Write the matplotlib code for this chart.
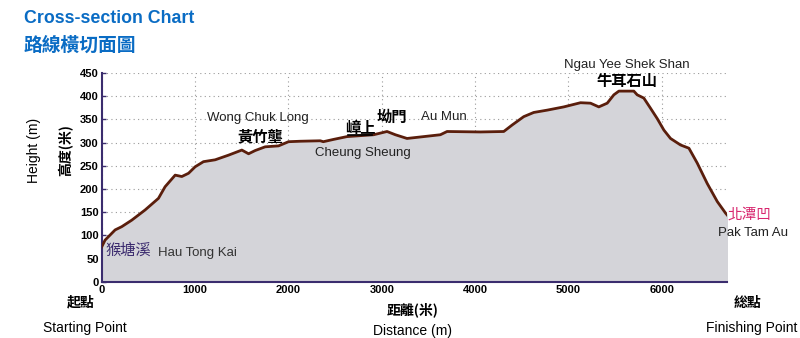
import matplotlib
matplotlib.use("Agg")
import matplotlib.pyplot as plt
from matplotlib.ticker import MultipleLocator

plt.rcParams['font.family'] = ['Liberation Sans', 'Noto Sans CJK TC', 'DejaVu Sans']

# route profile: distance (m), height (m)
distance = [0, 37, 145, 216, 323, 466, 609, 680, 788, 859, 931, 1002, 1091, 1216, 1359,
            1502, 1574, 1645, 1752, 1895, 2002, 2127, 2342, 2374, 2485, 2628, 2913, 3057,
            3146, 3271, 3628, 3700, 4057, 4307, 4397, 4521, 4628, 4772, 4950, 5129, 5236,
            5325, 5415, 5486, 5540, 5700, 5736, 5807, 5879, 5950, 6022, 6093, 6200, 6290,
            6379, 6486, 6594, 6683, 6700]
height = [75, 90, 112, 119, 133, 155, 180, 205, 230, 227, 234, 248, 259, 263, 273,
          284, 276, 283, 291, 293, 302, 303, 304, 302, 307, 313, 317, 324,
          317, 309, 317, 324, 323, 324, 338, 356, 365, 370, 377, 386, 385,
          377, 385, 403, 411, 411, 403, 396, 374, 352, 327, 309, 295, 288,
          256, 212, 173, 148, 144]

x_ticks = [0, 1000, 2000, 3000, 4000, 5000, 6000]
y_ticks = [0, 50, 100, 150, 200, 250, 300, 350, 400, 450]

blue = '#0a6cc4'
spine = '#3b2d6e'
cjk = ['Noto Sans CJK TC']

fig = plt.figure(figsize=(8, 3.38), dpi=100)
ax = fig.add_axes([0.127, 0.166, 0.782, 0.618])

ax.fill_between(distance, height, 0, color='#d4d4d9', zorder=1)
ax.plot(distance, height, color='#5a1e0c', lw=2.0, zorder=3)

ax.set_xlim(0, 6700)
ax.set_ylim(0, 450)
ax.set_xticks(x_ticks)
ax.set_yticks(y_ticks)
ax.xaxis.set_minor_locator(MultipleLocator(200))
ax.grid(True, which='major', color='#9a9a9a', ls=(0, (1, 3)), lw=0.8, zorder=0)
ax.set_axisbelow(True)
for s in ['top', 'right']:
    ax.spines[s].set_visible(False)
for s in ['left', 'bottom']:
    ax.spines[s].set_color(spine)
    ax.spines[s].set_linewidth(1.5)
ax.tick_params(direction='in', length=3, width=1, color=spine, labelsize=8, pad=2)
ax.tick_params(which='minor', direction='in', length=2, width=0.8, color=spine)
for lab in ax.get_xticklabels() + ax.get_yticklabels():
    lab.set_fontweight('bold')

# titles
fig.text(0.03, 0.945, 'Cross-section Chart', color=blue, fontsize=12.8, fontweight='bold', va='center')
fig.text(0.03, 0.865, '路線橫切面圖', color=blue, fontsize=13.5, fontweight='bold', va='center',
         family=cjk)

# axis labels
fig.text(0.042, 0.555, 'Height (m)', rotation=90, fontsize=10, va='center', ha='center')
fig.text(0.082, 0.555, '高度(米)', rotation=90, fontsize=10, va='center', ha='center',
         fontweight='bold', family=cjk)
fig.text(0.516, 0.083, '距離(米)', fontsize=10, ha='center', va='center', fontweight='bold',
         family=cjk)
fig.text(0.516, 0.022, 'Distance (m)', fontsize=10, ha='center', va='center')
fig.text(0.101, 0.105, '起點', fontsize=10, ha='center', va='center', fontweight='bold',
         family=cjk)
fig.text(0.106, 0.030, 'Starting Point', fontsize=10, ha='center', va='center')
fig.text(0.934, 0.105, '総點', fontsize=10, ha='center', va='center', fontweight='bold',
         family=cjk)
fig.text(0.94, 0.030, 'Finishing Point', fontsize=10, ha='center', va='center')

# place names
ax.text(40, 68, '猴塘溪', color='#3a2a6e', fontsize=11, va='center', family=cjk)
ax.text(600, 63, 'Hau Tong Kai', fontsize=9.5, va='center', color='#333333')
ax.text(1670, 353, 'Wong Chuk Long', fontsize=9.5, ha='center', va='center', color='#222222')
ax.text(1700, 313, '黃竹壟', fontsize=11, ha='center', va='center', fontweight='bold',
        family=cjk)
ax.text(2770, 332, '嶂上', fontsize=11, ha='center', va='center', fontweight='bold',
        family=cjk)
ax.plot([2640, 2900], [316, 316], color='black', lw=1.2, zorder=4)
ax.text(2800, 277, 'Cheung Sheung', fontsize=9.5, ha='center', va='center', color='#222222')
ax.text(3110, 355, '坳門', fontsize=11, ha='center', va='center', fontweight='bold',
        family=cjk)
ax.text(3420, 355, 'Au Mun', fontsize=9.5, va='center', color='#222222')
ax.text(5630, 468, 'Ngau Yee Shek Shan', fontsize=9.5, ha='center', va='center',
        color='#222222', clip_on=False)
ax.text(5630, 432, '牛耳石山', fontsize=11, ha='center', va='center', fontweight='bold',
        family=cjk, clip_on=False)
ax.text(6700, 145, '北潭凹', fontsize=10.5, va='center', color='#d8266e',
        family=cjk, clip_on=False)
ax.text(6600, 105, 'Pak Tam Au', fontsize=9.5, va='center', color='#222222', clip_on=False)

fig.savefig('out.png', dpi=100)
